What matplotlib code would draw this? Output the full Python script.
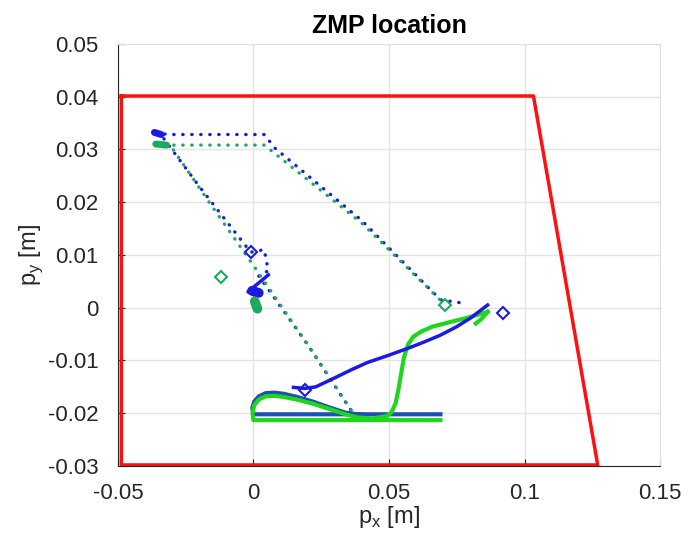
import numpy as np
import matplotlib
matplotlib.use("Agg")
import matplotlib.pyplot as plt

# support polygon (red)
poly_x = [-0.0487, 0.1033, 0.127, -0.0487, -0.0487]
poly_y = [0.0401, 0.0401, -0.0298, -0.0298, 0.0401]

# dotted reference paths
blue_top_x = [-0.036, -0.030, 0.004, 0.008, 0.040, 0.069, 0.078]
blue_top_y = [0.0330, 0.0328, 0.0328, 0.0302, 0.0165, 0.0015, 0.0008]
green_top_x = [-0.036, -0.030, 0.004, 0.006, 0.040, 0.0708]
green_top_y = [0.0308, 0.0308, 0.0308, 0.0300, 0.0160, 0.0005]
blue_diag_x = [-0.033, -0.020, -0.001, 0.004, 0.0055, 0.002, 0.020, 0.038]
blue_diag_y = [0.0320, 0.0230, 0.0105, 0.011, 0.0070, 0.0060, -0.0070, -0.0210]
green_diag_x = [-0.0295, -0.015, 0.000, 0.020, 0.0384]
green_diag_y = [0.0299, 0.0190, 0.0080, -0.0070, -0.0212]

# solid tracked paths
blue_run_x = [0.0148, 0.019, 0.023, 0.030, 0.036, 0.042, 0.050, 0.057, 0.063, 0.069, 0.075, 0.080, 0.0864]
blue_run_y = [-0.0151, -0.0153, -0.0150, -0.0133, -0.0118, -0.0104, -0.0090, -0.0077, -0.0065, -0.0052,
              -0.0036, -0.0020, 0.0005]
blue_hump_x = [0.069, 0.000, -0.0004, 0.0003, 0.002, 0.0045, 0.0075, 0.011, 0.016, 0.022, 0.028, 0.034, 0.040]
blue_hump_y = [-0.0202, -0.0202, -0.0190, -0.0178, -0.0168, -0.0162, -0.0161, -0.0163, -0.0169, -0.0178,
               -0.0189, -0.0199, -0.0203]
blue_kink_x = [0.0055, -0.002, 0.000]
blue_kink_y = [0.0062, 0.0030, 0.0025]
green_x = [0.069, 0.000, -0.0003, 0.0003, 0.002, 0.0045, 0.0075, 0.011, 0.016, 0.022, 0.028, 0.034, 0.0384,
           0.044, 0.0494, 0.051, 0.0525, 0.0535, 0.0545, 0.0555, 0.057, 0.059, 0.062, 0.066, 0.072, 0.079, 0.0864]
green_y = [-0.0213, -0.0213, -0.0200, -0.0185, -0.0174, -0.0168, -0.0167, -0.0169, -0.0174, -0.0182, -0.0192,
           -0.0202, -0.0208, -0.0210, -0.0205, -0.0198, -0.0180, -0.0155, -0.0125, -0.0095, -0.0070, -0.0055,
           -0.0045, -0.0036, -0.0028, -0.0019, -0.0008]
green_tail_x = [0.0864, 0.084, 0.082]
green_tail_y = [-0.0008, -0.0022, -0.0030]

# start blobs
blue_blob_x = [-0.0365, -0.034]
blue_blob_y = [0.0332, 0.0328]
green_blob_x = [-0.036, -0.032]
green_blob_y = [0.0310, 0.0308]
blue_blob2_x = [-0.0005, 0.002]
blue_blob2_y = [0.0032, 0.0028]
green_blob2_x = [0.0005, 0.0015]
green_blob2_y = [0.0012, -0.0002]

# diamonds
blue_mk_x = [-0.001, 0.019, 0.092]
blue_mk_y = [0.0105, -0.0156, -0.001]
green_mk_x = [-0.0118, 0.0708]
green_mk_y = [0.0058, 0.0005]

blue = "#1a1ae0"
green = "#1fd61f"
teal_g = "#1fa860"

plt.rcParams['font.family'] = ['Liberation Sans', 'DejaVu Sans']
fig = plt.figure(figsize=(6.89, 5.40), dpi=100)
ax = fig.add_axes([0.171, 0.137, 0.787, 0.782])

dot = dict(linestyle=(0, (0.1, 2.6)), lw=2.4, dash_capstyle='round')
ax.plot(blue_top_x, blue_top_y, color=blue, **dot)
ax.plot(green_top_x, green_top_y, color=teal_g, **dot)
ax.plot(blue_diag_x, blue_diag_y, color=blue, **dot)
ax.plot(green_diag_x, green_diag_y, color=teal_g, **dot)

ax.plot(blue_hump_x, blue_hump_y, color="#1f4fb0", lw=3)
ax.plot(green_x, green_y, color=green, lw=3)
ax.plot(green_tail_x, green_tail_y, color=green, lw=3)
ax.plot(blue_run_x, blue_run_y, color=blue, lw=2.5)
ax.plot(blue_kink_x, blue_kink_y, color=blue, lw=2.5)

ax.plot(blue_blob_x, blue_blob_y, color=blue, lw=5, solid_capstyle='round')
ax.plot(green_blob_x, green_blob_y, color=teal_g, lw=5, solid_capstyle='round')
ax.plot(blue_blob2_x, blue_blob2_y, color=blue, lw=7, solid_capstyle='round')
ax.plot(green_blob2_x, green_blob2_y, color=teal_g, lw=7, solid_capstyle='round')

ax.plot(blue_mk_x, blue_mk_y, 'D', color=blue, mfc='none', ms=6, mew=1.5)
ax.plot(green_mk_x, green_mk_y, 'D', color=teal_g, mfc='none', ms=6, mew=1.5)

ax.plot(poly_x, poly_y, color="#ff1010", lw=2.5)

ax.set_xlim(-0.05, 0.15)
ax.set_ylim(-0.03, 0.05)
ax.set_xticks([-0.05, 0, 0.05, 0.1, 0.15])
ax.set_xticklabels(['-0.05', '0', '0.05', '0.1', '0.15'])
ax.set_yticks(np.arange(-0.03, 0.0501, 0.01))
ax.set_yticklabels(['-0.03', '-0.02', '-0.01', '0', '0.01', '0.02', '0.03', '0.04', '0.05'])
ax.grid(True, color="#e4e4e4", lw=1)
ax.set_axisbelow(True)
for s in ['top', 'right']:
    ax.spines[s].set_color("#e0e0e0")
for s in ['left', 'bottom']:
    ax.spines[s].set_color("#262626")
ax.tick_params(labelsize=16, direction='in', length=5, colors="#262626")
ax.tick_params(axis='x', pad=12)
ax.tick_params(axis='y', pad=14)
ax.set_xlabel(r'p$_\mathregular{x}$ [m]', fontsize=17, color="#262626", labelpad=0)
ax.set_ylabel(r'p$_\mathregular{y}$ [m]', fontsize=17, color="#262626", labelpad=2)
ax.set_title('ZMP location', fontsize=18, fontweight='bold', pad=8)

fig.savefig("out.png", dpi=100)
